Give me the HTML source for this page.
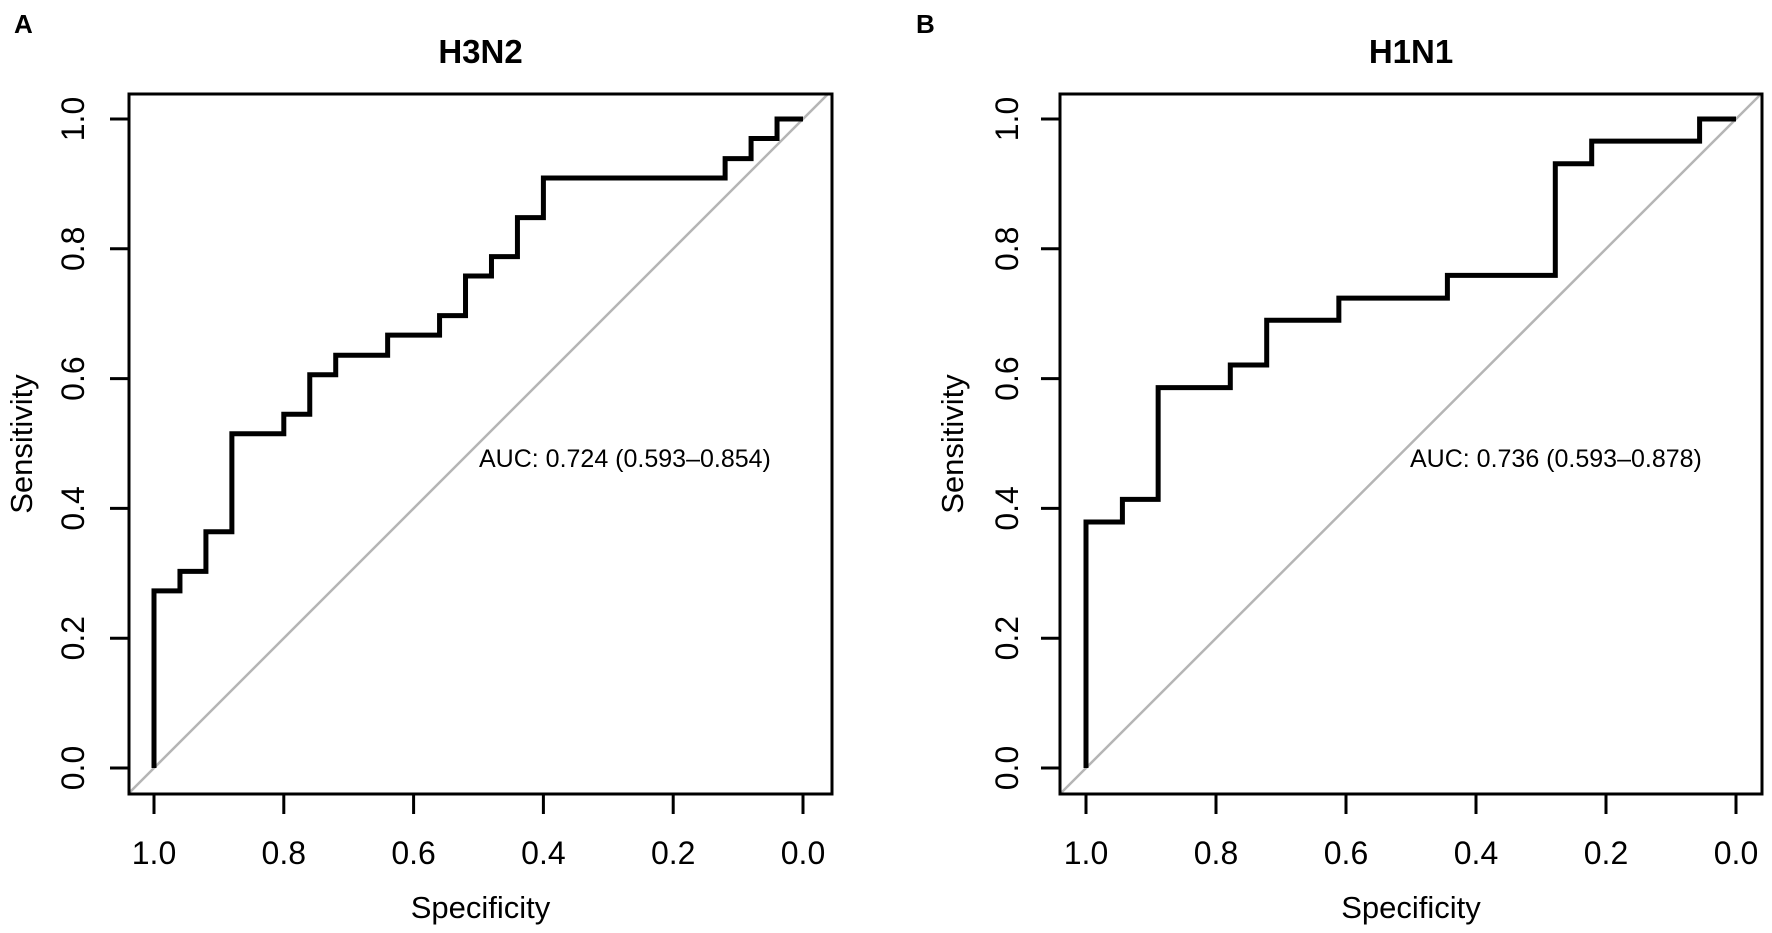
<!DOCTYPE html>
<html><head><meta charset="utf-8"><style>
html,body{margin:0;padding:0;background:#fff;}
svg{display:block;font-family:"Liberation Sans",Arial,sans-serif;}
</style></head><body>
<svg id="chart" width="1772" height="933" viewBox="0 0 1772 933"></svg>
<script>
const tickValues = [0, 0.2, 0.4, 0.6, 0.8, 1.0];
const tickLabels = ["0.0", "0.2", "0.4", "0.6", "0.8", "1.0"];
const panelTitles = ["H3N2", "H1N1"];
const panelLetters = ["A", "B"];
const aucLabels = ["AUC: 0.724 (0.593\u20130.854)", "AUC: 0.736 (0.593\u20130.878)"];
const h3n2Spec = [1.0, 0.96, 0.92, 0.88, 0.80, 0.76, 0.72, 0.64, 0.56, 0.52, 0.48, 0.44, 0.40, 0.12, 0.08, 0.04, 0.0];
const h3n2Sens = [0.273, 0.303, 0.364, 0.515, 0.545, 0.606, 0.636, 0.667, 0.697, 0.758, 0.788, 0.848, 0.909, 0.939, 0.970, 1.0, 1.0];
const h1n1Spec = [1.0, 0.944, 0.889, 0.778, 0.722, 0.611, 0.444, 0.278, 0.222, 0.056, 0.0];
const h1n1Sens = [0.379, 0.414, 0.586, 0.621, 0.690, 0.724, 0.759, 0.931, 0.966, 1.0, 1.0];

const NS = "http://www.w3.org/2000/svg";
const svg = document.getElementById('chart');
function mk(tag, attrs, parent) {
  const e = document.createElementNS(NS, tag);
  for (const k in attrs) e.setAttribute(k, attrs[k]);
  (parent || svg).appendChild(e);
  return e;
}
const panels = [
  {box:[129,94,832,794], x1:154, x0:803, letterX:14, ylabX:73, ytitleX:22, spec:h3n2Spec, sens:h3n2Sens, aucX:479},
  {box:[1060,94,1762,794], x1:1086, x0:1736, letterX:916, ylabX:1007, ytitleX:953, spec:h1n1Spec, sens:h1n1Sens, aucX:1410}
];
panels.forEach((p, i) => {
  const g = mk('g', {});
  
  
  const yTop = 119, yBot = 768;
  const sx = v => p.x0 + (p.x1 - p.x0) * v;
  const sy = v => yBot - (yBot - yTop) * v;
  const [L, T, R, B] = p.box;
  const clipId = 'clip' + i;
  const cp = mk('clipPath', {id: clipId}, g);
  mk('rect', {x:L, y:T, width:R-L, height:B-T}, cp);
  const diag = mk('line', {x1:sx(1.2), y1:sy(-0.2), x2:sx(-0.2), y2:sy(1.2), stroke:'#b5b5b5', 'stroke-width':2.5, 'clip-path':'url(#'+clipId+')'}, g);
  
  
  let d = 'M' + sx(p.spec[0]) + ',' + sy(0);
  for (let k = 0; k < p.spec.length; k++) {
    d += ' L' + sx(p.spec[k]) + ',' + sy(p.sens[k]);
    if (k + 1 < p.spec.length) d += ' L' + sx(p.spec[k+1]) + ',' + sy(p.sens[k]);
  }
  const curve = mk('path', {d:d, fill:'none', stroke:'#000', 'stroke-width':5, 'stroke-linejoin':'miter'}, g);
  
  
  const box = mk('rect', {x:L, y:T, width:R-L, height:B-T, fill:'none', stroke:'#000', 'stroke-width':3}, g);
  
  
  tickValues.forEach((v, k) => {
    mk('line', {x1:sx(v), y1:B, x2:sx(v), y2:B+20, stroke:'#000', 'stroke-width':3}, g);
    const tx = mk('text', {x:sx(v), y:864, 'font-size':32, 'text-anchor':'middle'}, g);
    tx.textContent = tickLabels[k];
    
    
    mk('line', {x1:L, y1:sy(v), x2:L-19, y2:sy(v), stroke:'#000', 'stroke-width':3}, g);
    const ty = mk('text', {x:0, y:0, 'font-size':32, 'text-anchor':'middle', transform:'translate('+(p.ylabX+11)+','+sy(v)+') rotate(-90)'}, g);
    ty.textContent = tickLabels[k];
    
    
  });
  const xt = mk('text', {x:(L+R)/2, y:918, 'font-size':31, 'text-anchor':'middle'}, g);
  xt.textContent = 'Specificity';
  
  
  const yt = mk('text', {x:0, y:0, 'font-size':31, 'text-anchor':'middle', transform:'translate('+(p.ytitleX+10)+','+((T+B)/2)+') rotate(-90)'}, g);
  yt.textContent = 'Sensitivity';
  
  
  const tt = mk('text', {x:(L+R)/2, y:63, 'font-size':33, 'font-weight':'bold', 'text-anchor':'middle'}, g);
  tt.textContent = panelTitles[i];
  
  
  const lt = mk('text', {x:p.letterX, y:33, 'font-size':26, 'font-weight':'bold'}, g);
  lt.textContent = panelLetters[i];
  
  
  const at = mk('text', {x:p.aucX, y:467, 'font-size':25}, g);
  at.textContent = aucLabels[i];
  
  
});
</script>
</body></html>
